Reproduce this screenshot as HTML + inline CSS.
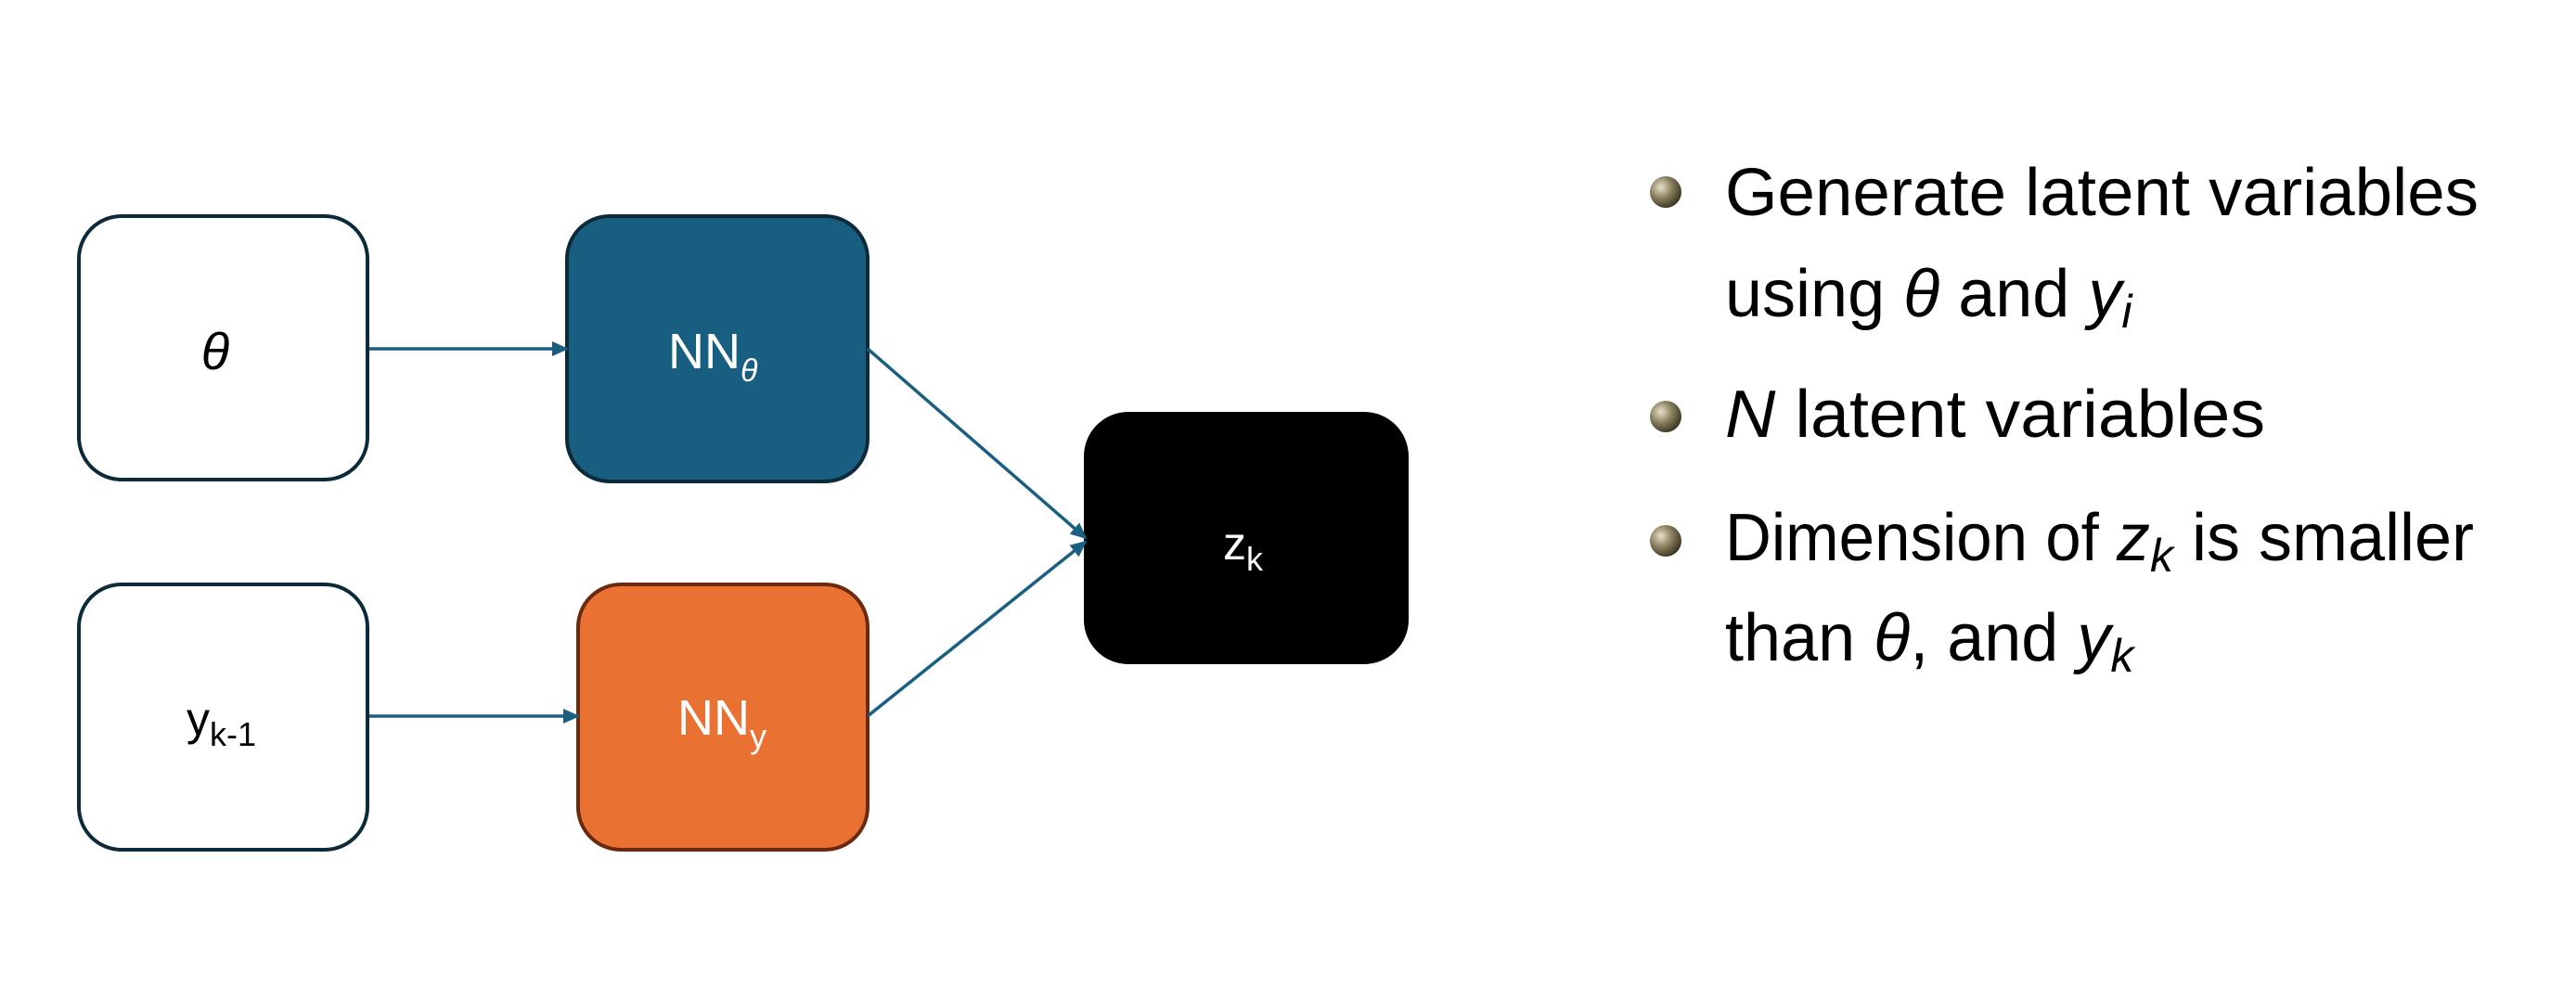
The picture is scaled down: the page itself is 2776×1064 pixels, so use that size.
<!DOCTYPE html>
<html><head><meta charset="utf-8"><style>
html,body{margin:0;padding:0;background:#fff;}
svg{display:block;}
text{font-family:"Liberation Sans","DejaVu Sans",sans-serif;}
</style></head><body>
<svg width="2776" height="1064" viewBox="0 0 2776 1064" xmlns="http://www.w3.org/2000/svg">
<defs>
<marker id="ah" markerWidth="18" markerHeight="16" refX="16" refY="8" orient="auto" markerUnits="userSpaceOnUse" viewBox="0 0 18 16">
<path d="M0,0 L18,8 L0,16 z" fill="#1a5e80"/>
</marker>
<radialGradient id="ball" cx="0.35" cy="0.35" r="0.7">
<stop offset="0" stop-color="#e8e2c8"/>
<stop offset="0.5" stop-color="#8a8060"/>
<stop offset="1" stop-color="#3a3420"/>
</radialGradient>
</defs>
<g stroke-width="4">
<rect x="85" y="233" width="311" height="284" rx="46" fill="#fff" stroke="#0d2a3a"/>
<rect x="611" y="233" width="324" height="286" rx="46" fill="#175e80" stroke="#0d2a3a"/>
<rect x="85" y="630" width="311" height="286" rx="46" fill="#fff" stroke="#0d2a3a"/>
<rect x="623" y="630" width="312" height="286" rx="46" fill="#e97232" stroke="#6b2a10"/>
<rect x="1170" y="446" width="346" height="268" rx="46" fill="#000" stroke="#000"/>
</g>
<g stroke="#1a5e80" stroke-width="3.5" fill="none">
<line x1="398" y1="376" x2="611" y2="376" marker-end="url(#ah)"/>
<line x1="398" y1="772" x2="623" y2="772" marker-end="url(#ah)"/>
<line x1="935" y1="376" x2="1170" y2="580" marker-end="url(#ah)"/>
<line x1="935" y1="772" x2="1170" y2="584" marker-end="url(#ah)"/>
</g>
<text x="232" y="398" font-size="56" font-style="italic" text-anchor="middle" fill="#000">θ</text>
<text x="720" y="397" font-size="54" fill="#fff">NN<tspan font-size="34" font-style="italic" dy="14">θ</tspan></text>
<text x="201" y="792" font-size="50" fill="#000">y<tspan font-size="36" dy="12">k-1</tspan></text>
<text x="730" y="792" font-size="54" fill="#fff">NN<tspan font-size="36" dy="14">y</tspan></text>
<text x="1318" y="603" font-size="50" fill="#fff">z<tspan font-size="36" dy="12">k</tspan></text>
<g fill="url(#ball)">
<circle cx="1795" cy="207" r="17"/>
<circle cx="1795" cy="449" r="17"/>
<circle cx="1795" cy="583" r="17"/>
</g>
<g font-size="72" fill="#000">
<text x="1859" y="232" textLength="812" lengthAdjust="spacingAndGlyphs">Generate latent variables</text>
<text x="1859" y="341">using <tspan font-style="italic">θ</tspan> and <tspan font-style="italic">y</tspan><tspan font-style="italic" font-size="50" dy="12">i</tspan></text>
<text x="1859" y="471" textLength="582" lengthAdjust="spacingAndGlyphs"><tspan font-style="italic">N</tspan> latent variables</text>
<text x="1859" y="604"><tspan textLength="422" lengthAdjust="spacingAndGlyphs">Dimension of </tspan><tspan font-style="italic">z</tspan><tspan font-style="italic" font-size="50" dy="12">k</tspan><tspan dy="-12"> is smaller</tspan></text>
<text x="1859" y="712">than <tspan font-style="italic">θ</tspan>, and <tspan font-style="italic">y</tspan><tspan font-style="italic" font-size="50" dy="12">k</tspan></text>
</g>
</svg>
</body></html>
